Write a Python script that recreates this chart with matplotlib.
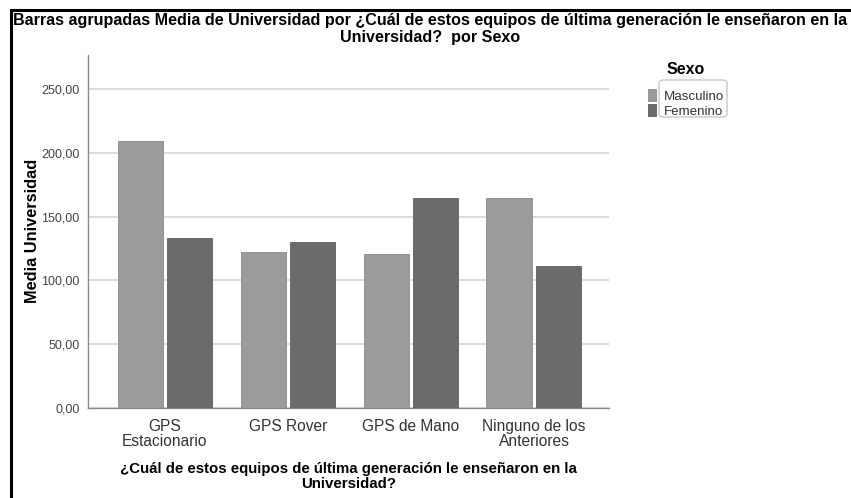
import matplotlib.pyplot as plt
import numpy as np
from matplotlib.patches import Rectangle, FancyBboxPatch

categorias = ["GPS\nEstacionario", "GPS Rover", "GPS de Mano", "Ninguno de los\nAnteriores"]
masculino = [209.6, 121.9, 120.8, 164.3]
femenino = [132.9, 130.0, 164.8, 111.3]
yticks = [0, 50, 100, 150, 200, 250]
ytick_labels = ["0,00", "50,00", "100,00", "150,00", "200,00", "250,00"]

plt.rcParams['font.family'] = ['Liberation Sans', 'DejaVu Sans']

fig = plt.figure(figsize=(8.51, 4.98), dpi=100)

# marco negro de la captura
fig.add_artist(Rectangle((10.5 / 851, -0.1), 2, 1.1 - 10.5 / 498,
                         transform=fig.transFigure, fill=False,
                         edgecolor='black', linewidth=2.2))

ax = fig.add_axes([88 / 851, 1 - 407.5 / 498, 521 / 851, (407.5 - 55) / 498])

x = np.arange(len(categorias))
off = 0.203
w = 0.366
ax.bar(x - off, masculino, w, color='#9b9b9b', edgecolor='#8a8a8a', linewidth=0.6,
       label='Masculino', zorder=3)
ax.bar(x + off, femenino, w, color='#6b6b6b', edgecolor='#5f5f5f', linewidth=0.6,
       label='Femenino', zorder=3)

ax.set_xlim(-0.626, 3.61)
ax.set_ylim(0, 277)
ax.set_yticks(yticks)
ax.set_yticklabels(ytick_labels, color='#444444', fontsize=9)
ax.set_xticks(x)
ax.set_xticklabels(categorias, color='#333333', fontsize=11.2, linespacing=1.05)
ax.tick_params(length=0, pad=8)
ax.tick_params(axis='y', pad=6)
ax.grid(axis='y', color='#d6d6d6', linewidth=1.2, zorder=0)
for s in ['top', 'right']:
    ax.spines[s].set_visible(False)
for s in ['left', 'bottom']:
    ax.spines[s].set_color('#8c8c8c')
    ax.spines[s].set_linewidth(1.0)

ax.set_ylabel('Media Universidad', fontsize=11.8, fontweight='bold')
ax.yaxis.set_label_coords(-48 / 521, 0.5)
ax.set_xlabel('¿Cuál de estos equipos de última generación le enseñaron en la\nUniversidad?',
              fontsize=10.8, fontweight='bold', labelpad=9, linespacing=1.1)

fig.text(0.5 + 5 / 851, 1 - 29 / 498,
         'Barras agrupadas Media de Universidad por ¿Cuál de estos equipos de última generación le enseñaron en la\nUniversidad?  por Sexo',
         ha='center', va='center', fontsize=11.6, fontweight='bold', linespacing=1.1)

leg = fig.legend(loc='upper left', bbox_to_anchor=(639 / 851, 1 - 80 / 498),
                 fontsize=9.6, frameon=False, handlelength=0.6, handleheight=1.0,
                 handletextpad=0.6, borderpad=0.2, labelspacing=0.12)
for t in leg.get_texts():
    t.set_color('#333333')
fig.text(667 / 851, 1 - 69 / 498, 'Sexo', fontsize=11.5, fontweight='bold',
         ha='left', va='center')

# caja redondeada alrededor de las etiquetas de la leyenda
fig.add_artist(FancyBboxPatch((659 / 851, 1 - 117 / 498), 68 / 851, 37 / 498,
                              boxstyle='round,pad=0,rounding_size=0.006',
                              transform=fig.transFigure, fill=False,
                              edgecolor='#c8c8c8', linewidth=1.0))

plt.savefig('out.png', dpi=100)
